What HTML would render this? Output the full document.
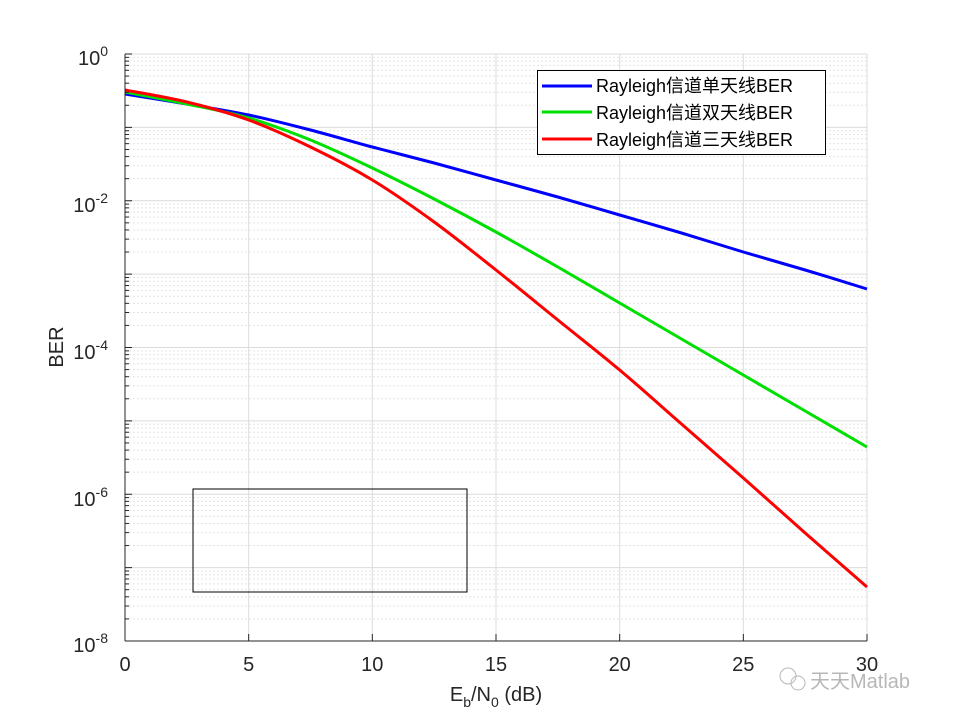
<!DOCTYPE html>
<html><head><meta charset="utf-8"><style>
html,body{margin:0;padding:0;background:#fff;}
svg{display:block;font-family:"Liberation Sans","Noto Sans CJK SC",sans-serif;}
</style></head><body>
<svg id="s" width="959" height="719" viewBox="0 0 959 719" xmlns="http://www.w3.org/2000/svg">
<rect width="959" height="719" fill="#fff"/>
<g id="grid"></g>
<rect x="193" y="489" width="274" height="103" fill="none" stroke="#000" stroke-width="1"/>
<g id="curves" fill="none" stroke-width="3" stroke-linejoin="round"></g>
<line x1="125" y1="641" x2="867" y2="641" stroke="#262626"/>
<line x1="125" y1="54" x2="125" y2="641" stroke="#262626"/>
<g id="ticks" stroke="#262626"></g>
<g font-size="20" fill="#262626" text-anchor="middle">
<text x="125" y="671">0</text><text x="248.7" y="671">5</text><text x="372.3" y="671">10</text><text x="496" y="671">15</text><text x="619.7" y="671">20</text><text x="743.3" y="671">25</text><text x="867" y="671">30</text>
</g>
<g font-size="20" fill="#262626" text-anchor="end">
<text x="108" y="65">10<tspan font-size="14" dy="-9">0</tspan></text>
<text x="108" y="212">10<tspan font-size="14" dy="-9">-2</tspan></text>
<text x="108" y="359">10<tspan font-size="14" dy="-9">-4</tspan></text>
<text x="108" y="506">10<tspan font-size="14" dy="-9">-6</tspan></text>
<text x="108" y="652">10<tspan font-size="14" dy="-9">-8</tspan></text>
</g>
<text x="496" y="701" font-size="20" fill="#262626" text-anchor="middle">E<tspan font-size="14" dy="6">b</tspan><tspan dy="-6">/N</tspan><tspan font-size="14" dy="6">0</tspan><tspan dy="-6"> (dB)</tspan></text>
<text transform="translate(63,347) rotate(-90)" font-size="20" fill="#262626" text-anchor="middle">BER</text>
<rect x="537.5" y="70.5" width="288" height="84" fill="#fff" stroke="#000"/>
<g stroke-width="3"><line x1="542" y1="86" x2="592" y2="86" stroke="#0000ff"/><line x1="542" y1="112" x2="592" y2="112" stroke="#00e000"/><line x1="542" y1="139" x2="592" y2="139" stroke="#ff0000"/></g>
<g font-size="18" fill="#000">
<text x="596" y="92">Rayleigh信道单天线BER</text>
<text x="596" y="119">Rayleigh信道双天线BER</text>
<text x="596" y="146">Rayleigh信道三天线BER</text>
</g>
<g opacity="0.6"><circle cx="788" cy="676" r="8" fill="none" stroke="#888"/><circle cx="798" cy="683" r="7" fill="none" stroke="#888"/>
<text x="810" y="688" font-size="20" fill="#888">天天Matlab</text></g>
</svg>
<script>
var g=document.getElementById('grid'),t=document.getElementById('ticks'),ns='http://www.w3.org/2000/svg';
function L(p,x1,y1,x2,y2,c,d){var l=document.createElementNS(ns,'line');l.setAttribute('x1',x1);l.setAttribute('y1',y1);l.setAttribute('x2',x2);l.setAttribute('y2',y2);l.setAttribute('stroke',c);if(d)l.setAttribute('stroke-dasharray',d);p.appendChild(l);}
var D=73.375;
for(var n=0;n<=8;n++){var y=54+D*n;L(g,125,y,867,y,'#dcdcdc');L(t,125,y,132,y,'#262626');
 if(n<8){for(var k=2;k<=9;k++){var yy=54+D*(n+1)-D*Math.log10(k);L(g,125,yy,867,yy,'#e4e4e4','2,2');L(t,125,yy,129,yy,'#262626');}}}
for(var i=1;i<=6;i++){var x=125+123.667*i;L(g,x,54,x,641,'#dcdcdc');L(t,x,641,x,634,'#262626');}
var C=document.getElementById('curves');
var data=[['#0000ff',[94,104,115,130,147,163,180,197,215,233,252,270,289]],
['#00e000',[92,104,118,140,168,199,232,267,303,339,375,411,447]],
['#ff0000',[90,102,120,147,180,222,270,320,370,424,478,533,587]]];
data.forEach(function(s){var ys=s[1],pts=ys.map(function(v,i){return [125+i*61.833,v];});
var d='M'+pts[0][0]+','+pts[0][1];
for(var i=0;i<pts.length-1;i++){var p0=pts[Math.max(i-1,0)],p1=pts[i],p2=pts[i+1],p3=pts[Math.min(i+2,pts.length-1)];
d+=' C'+(p1[0]+(p2[0]-p0[0])/6)+','+(p1[1]+(p2[1]-p0[1])/6)+' '+(p2[0]-(p3[0]-p1[0])/6)+','+(p2[1]-(p3[1]-p1[1])/6)+' '+p2[0]+','+p2[1];}
var p=document.createElementNS(ns,'path');p.setAttribute('d',d);p.setAttribute('stroke',s[0]);C.appendChild(p);});
</script>
</body></html>
